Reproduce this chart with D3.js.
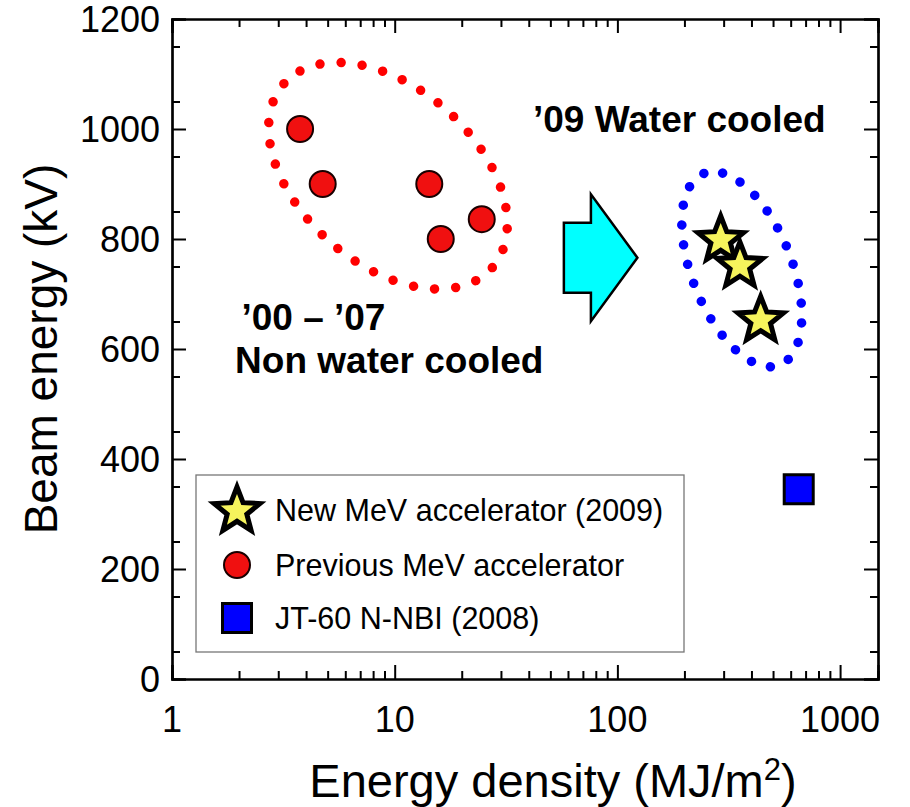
<!DOCTYPE html>
<html>
<head>
<meta charset="utf-8">
<script src="https://cdn.jsdelivr.net/npm/d3@7"></script>
<style>
  html, body { margin: 0; padding: 0; background: #fff; }
  svg { display: block; }
  text { font-family: "Liberation Sans", Arial, sans-serif; fill: #000; }
</style>
</head>
<body>
<svg id="chart" width="910" height="807"></svg>
<script>
// ---------------- data ----------------
const newAccX = [291, 355, 440];
const newAccY = [800, 753, 654];
const prevAccX = [3.76, 4.75, 14.3, 16.1, 24.6];
const prevAccY = [1000, 900, 900, 800, 836];
const jtX = [652];
const jtY = [345];

const xTickValues = [1, 10, 100, 1000];
const xTickLabels = ["1", "10", "100", "1000"];
const yTickValues = [0, 200, 400, 600, 800, 1000, 1200];
const yTickLabels = ["0", "200", "400", "600", "800", "1000", "1200"];

const legendLabels = ["New MeV accelerator (2009)", "Previous MeV accelerator", "JT-60 N-NBI (2008)"];

// annotation anchors (data coordinates)
const groupCentersX = [9.33, 362];
const groupCentersY = [915, 745];
const arrowFromX = [57.5];
const arrowToX = [123];
const arrowAtY = [766];
const noteTexts = ["\u201909 Water cooled", "\u201900 \u2013 \u201907", "Non water cooled"];
const noteX = [41.8, 2.05, 1.92];
const noteY = [995, 634, 556];

// ---------------- layout ----------------
const svg = d3.select("#chart");
const pL = 172, pR = 878, pT = 19, pB = 679;

const x = d3.scaleLog().domain([1, 1480]).range([pL, pR]);
const y = d3.scaleLinear().domain([0, 1200]).range([pB, pT]);

// minor ticks
const xMinor = [];
for (let d = 1; d <= 1000; d *= 10) for (let k = 2; k <= 9; k++) if (d * k < 1480) xMinor.push(d * k);
const yMinor = d3.range(50, 1200, 100);

const axG = svg.append("g");

function drawAxis(axisGen, transform, major, minor, majLen, minLen) {
  const g = axG.append("g").attr("transform", transform);
  g.call(axisGen.tickValues(major).tickSize(majLen).tickFormat(""));
  const g2 = axG.append("g").attr("transform", transform);
  g2.call(axisGen.tickValues(minor).tickSize(minLen).tickFormat(""));
  [g, g2].forEach(gg => {
    gg.select(".domain").attr("stroke", "#000").attr("stroke-width", 2.2);
    gg.selectAll(".tick line").attr("stroke", "#000").attr("stroke-width", 2);
  });
}
drawAxis(d3.axisTop(x), `translate(0,${pB})`, xTickValues, xMinor, 14, 8);
drawAxis(d3.axisBottom(x), `translate(0,${pT})`, xTickValues, xMinor, 14, 8);
drawAxis(d3.axisRight(y), `translate(${pL},0)`, yTickValues, yMinor, 14, 8);
drawAxis(d3.axisLeft(y), `translate(${pR},0)`, yTickValues, yMinor, 14, 8);

// tick labels
svg.append("g").selectAll("text").data(xTickValues).join("text")
  .attr("x", d => x(d)).attr("y", 732)
  .attr("text-anchor", "middle")
  .style("font-size", "36px")
  .text((d, i) => xTickLabels[i]);

svg.append("g").selectAll("text").data(yTickValues).join("text")
  .attr("x", 160).attr("y", d => y(d) + 12.5)
  .attr("text-anchor", "end")
  .style("font-size", "36px")
  .text((d, i) => yTickLabels[i]);

// axis titles
svg.append("text")
  .attr("transform", `translate(57,${(pT + pB) / 2}) rotate(-90)`)
  .attr("text-anchor", "middle")
  .style("font-size", "46px")
  .text("Beam energy (kV)");

const xt = svg.append("text")
  .attr("x", 553).attr("y", 797)
  .attr("text-anchor", "middle")
  .style("font-size", "47px");
xt.append("tspan").text("Energy density (MJ/m");
xt.append("tspan").attr("baseline-shift", "super").style("font-size", "31px").text("2");
xt.append("tspan").text(")");

// ---------------- dotted ellipses ----------------
const ellA = [139, 103], ellB = [88, 50], ellRot = [41.5, 68.4], ellDots = [34, 25];
const ellColors = ["#ff0000", "#0000ff"];
groupCentersX.forEach((cx, i) => {
  const a = ellA[i], b = ellB[i];
  const p = svg.append("path")
    .attr("transform", `translate(${x(cx)},${y(groupCentersY[i])}) rotate(${ellRot[i]})`)
    .attr("d", `M${-a},0 A${a},${b} 0 1,0 ${a},0 A${a},${b} 0 1,0 ${-a},0 Z`)
    .attr("fill", "none")
    .attr("stroke", ellColors[i])
    .attr("stroke-width", 9.5)
    .attr("stroke-linecap", "round");
  const L = p.node().getTotalLength();
  p.attr("stroke-dasharray", `0 ${L / ellDots[i]}`);
});

// ---------------- arrow ----------------
arrowFromX.forEach((fx, i) => {
  const x0 = x(fx), x1 = x(arrowToX[i]), cy = y(arrowAtY[i]);
  const bh = 35, hh = 63.5, hl = 46.5;
  const pts = [[x0, cy - bh], [x1 - hl, cy - bh], [x1 - hl, cy - hh], [x1, cy],
               [x1 - hl, cy + hh], [x1 - hl, cy + bh], [x0, cy + bh]];
  svg.append("polygon")
    .attr("points", pts.map(p => p.join(",")).join(" "))
    .attr("fill", "#00ffff")
    .attr("stroke", "#000")
    .attr("stroke-width", 2.5)
    .attr("stroke-linejoin", "miter");
});

// ---------------- markers ----------------
function starPath(R, ratio) {
  const pts = [];
  for (let k = 0; k < 10; k++) {
    const r = k % 2 === 0 ? R : R * ratio;
    const ang = -Math.PI / 2 + k * Math.PI / 5;
    pts.push([r * Math.cos(ang), r * Math.sin(ang)]);
  }
  return "M" + pts.map(p => p.join(",")).join("L") + "Z";
}
const starD = starPath(24, 0.43);

function drawStar(g, cx, cy) {
  g.append("path").attr("d", starD)
    .attr("transform", `translate(${cx},${cy + 1})`)
    .attr("fill", "#f6f45c")
    .attr("stroke", "#000")
    .attr("stroke-width", 5)
    .attr("stroke-linejoin", "miter");
}
function drawCircle(g, cx, cy) {
  g.append("circle").attr("cx", cx).attr("cy", cy).attr("r", 13)
    .attr("fill", "#f01010").attr("stroke", "#1a0000").attr("stroke-width", 2);
}
function drawSquare(g, cx, cy) {
  g.append("rect").attr("x", cx - 14.5).attr("y", cy - 14.5)
    .attr("width", 29).attr("height", 29)
    .attr("fill", "#0000ff").attr("stroke", "#000").attr("stroke-width", 3);
}

const mk = svg.append("g");
prevAccX.forEach((v, i) => drawCircle(mk, x(v), y(prevAccY[i])));
jtX.forEach((v, i) => drawSquare(mk, x(v), y(jtY[i])));
newAccX.forEach((v, i) => drawStar(mk, x(v), y(newAccY[i])));

// ---------------- annotation text ----------------
noteTexts.forEach((t, i) => {
  svg.append("text")
    .attr("x", x(noteX[i])).attr("y", y(noteY[i]))
    .style("font-size", "37px").style("font-weight", "bold")
    .text(t);
});

// ---------------- legend ----------------
const lg = svg.append("g");
lg.append("rect").attr("x", 196).attr("y", 475).attr("width", 488).attr("height", 177)
  .attr("fill", "#fff").attr("stroke", "#777").attr("stroke-width", 1.3);
const legendYs = [510, 565, 618];
drawStar(lg, 237, legendYs[0]);
drawCircle(lg, 237, legendYs[1]);
drawSquare(lg, 237, legendYs[2]);
legendLabels.forEach((t, i) => {
  lg.append("text").attr("x", 275).attr("y", legendYs[i] + 11)
    .style("font-size", "30.5px").text(t);
});
</script>
</body>
</html>
